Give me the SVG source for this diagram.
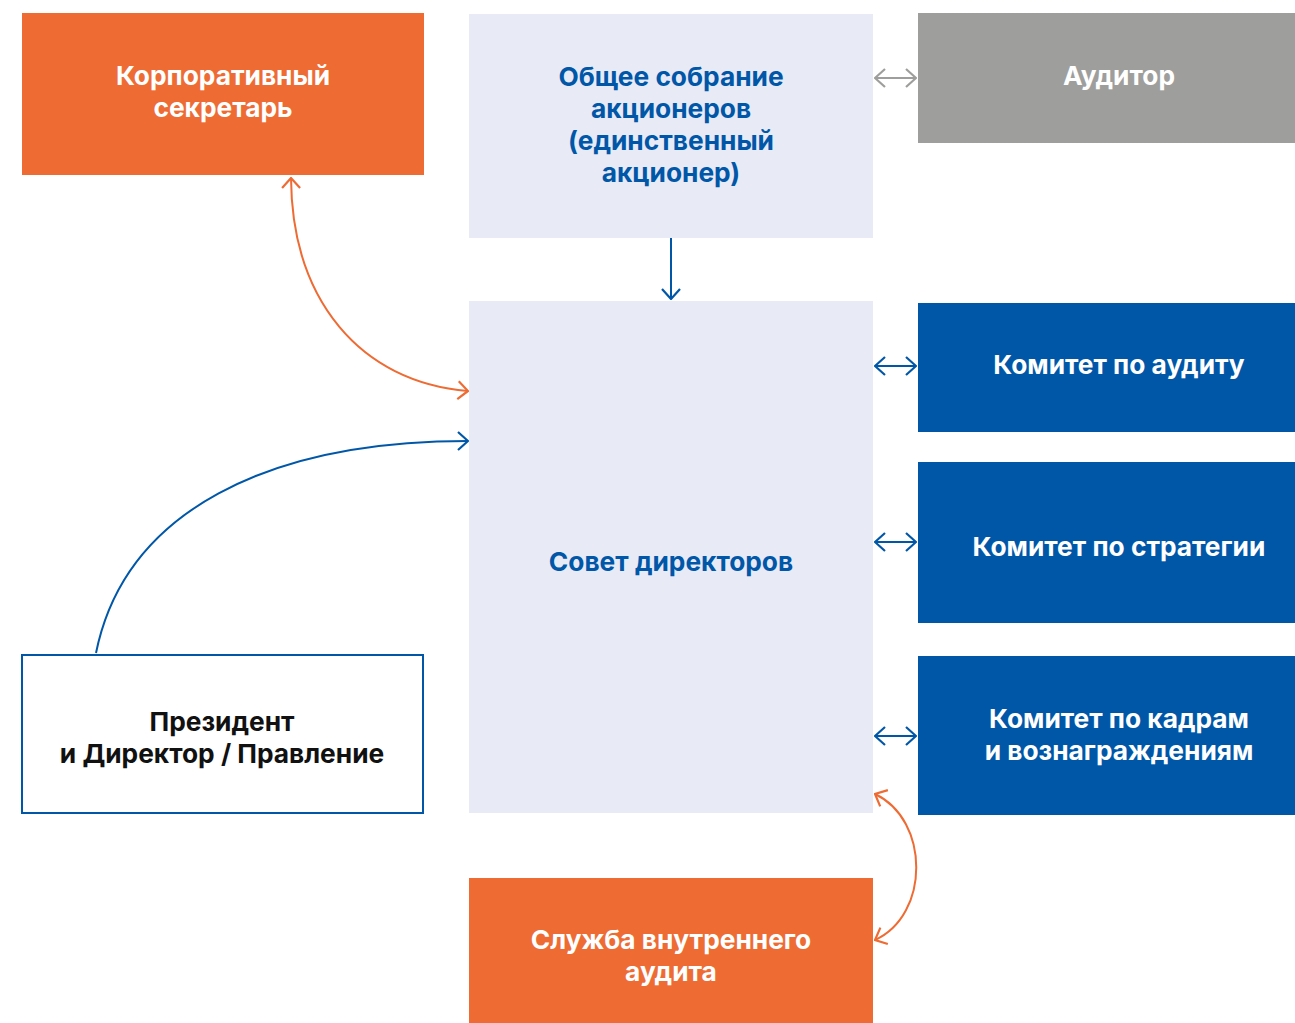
<svg xmlns="http://www.w3.org/2000/svg" width="1295" height="1023" viewBox="0 0 1295 1023">
<defs>
<style>
text{font-family:Inter,"Noto Sans",sans-serif;font-weight:700;font-size:26.3px;text-anchor:middle;dominant-baseline:central}
.w{fill:#fff}.b{fill:#0057A8}.k{fill:#111}
.c{fill:none;stroke-width:2}
</style>
<marker id="ab" viewBox="0 0 12 20" refX="11" refY="10" markerWidth="12" markerHeight="20" markerUnits="userSpaceOnUse" orient="auto-start-reverse"><path d="M1,1 L11,10 L1,19" fill="none" stroke="#0057A8" stroke-width="2.2"/></marker>
<marker id="ao" viewBox="0 0 12 20" refX="11" refY="10" markerWidth="12" markerHeight="20" markerUnits="userSpaceOnUse" orient="auto-start-reverse"><path d="M1,1 L11,10 L1,19" fill="none" stroke="#EE6B33" stroke-width="2.2"/></marker>
<marker id="ag" viewBox="0 0 12 20" refX="11" refY="10" markerWidth="12" markerHeight="20" markerUnits="userSpaceOnUse" orient="auto-start-reverse"><path d="M1,1 L11,10 L1,19" fill="none" stroke="#9E9E9C" stroke-width="2.2"/></marker>
</defs>
<rect width="1295" height="1023" fill="#fff"/>
<g id="secretary"><rect x="22" y="13" width="402" height="162" fill="#EE6B33"/><text class="w" x="223" y="75">Корпоративный</text><text class="w" x="223" y="107">секретарь</text></g>
<g id="meeting"><rect x="469" y="14" width="404" height="224" fill="#E8EAF6"/><text class="b" x="671" y="76">Общее собрание</text><text class="b" x="671" y="108">акционеров</text><text class="b" x="671" y="140">(единственный</text><text class="b" x="671" y="172">акционер)</text></g>
<g id="auditor"><rect x="918" y="13" width="377" height="130" fill="#9E9E9C"/><text class="w" x="1119" y="75">Аудитор</text></g>
<g id="board"><rect x="469" y="301" width="404" height="512" fill="#E8EAF6"/><text class="b" x="671" y="561">Совет директоров</text></g>
<g id="audit-committee"><rect x="918" y="303" width="377" height="129" fill="#0057A8"/><text class="w" x="1119" y="364">Комитет по аудиту</text></g>
<g id="strategy-committee"><rect x="918" y="462" width="377" height="161" fill="#0057A8"/><text class="w" x="1119" y="546">Комитет по стратегии</text></g>
<g id="hr-committee"><rect x="918" y="656" width="377" height="159" fill="#0057A8"/><text class="w" x="1119" y="718">Комитет по кадрам</text><text class="w" x="1119" y="750">и вознаграждениям</text></g>
<g id="president"><rect x="22" y="655" width="401" height="158" fill="#fff" stroke="#0057A8" stroke-width="2"/><text class="k" x="222" y="721">Президент</text><text class="k" x="222" y="753">и Директор / Правление</text></g>
<g id="internal-audit"><rect x="469" y="878" width="404" height="145" fill="#EE6B33"/><text class="w" x="671" y="939">Служба внутреннего</text><text class="w" x="671" y="971">аудита</text></g>
<g id="connectors">
<path class="c" d="M875,78 H916" stroke="#9E9E9C" marker-start="url(#ag)" marker-end="url(#ag)"/>
<path class="c" d="M671,238 V299" stroke="#0057A8" marker-end="url(#ab)"/>
<path class="c" d="M291,178 C292,300 360,382 468,391" stroke="#EE6B33" marker-start="url(#ao)" marker-end="url(#ao)"/>
<path class="c" d="M96,653 C125,510 270,441 468,441" stroke="#0057A8" marker-end="url(#ab)"/>
<path class="c" d="M875,366 H916" stroke="#0057A8" marker-start="url(#ab)" marker-end="url(#ab)"/>
<path class="c" d="M875,542 H916" stroke="#0057A8" marker-start="url(#ab)" marker-end="url(#ab)"/>
<path class="c" d="M875,736 H916" stroke="#0057A8" marker-start="url(#ab)" marker-end="url(#ab)"/>
<path class="c" d="M875,794 C930,820 930,915 875,940" stroke="#EE6B33" marker-start="url(#ao)" marker-end="url(#ao)"/>
</g>
</svg>
